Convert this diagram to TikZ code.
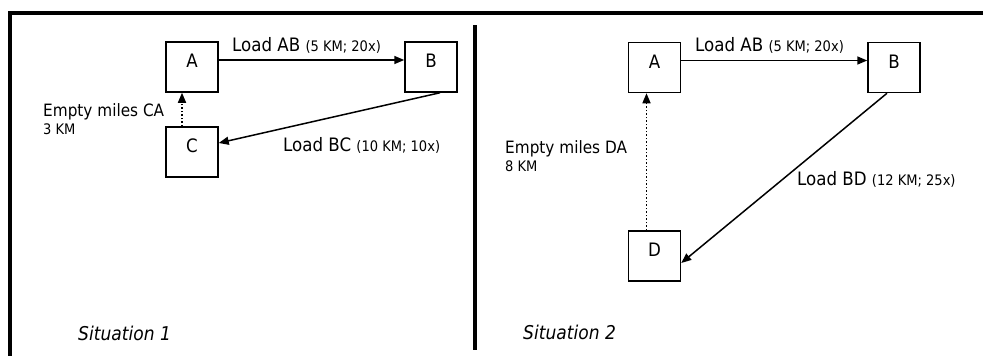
\documentclass[tikz,border=0pt]{standalone}
\usepackage{fontspec}
\setmainfont{DejaVu Sans}[FakeStretch=0.9]
\usepackage{tikz}
\usetikzlibrary{arrows.meta}
\newcommand{\detail}[1]{{\fontsize{14.5}{17}\selectfont #1}}

\begin{document}
\begin{tikzpicture}[x=1pt,y=-1pt,
  depot/.style={draw,line width=1.5pt,minimum width=52pt,minimum height=50pt,inner sep=0pt,text height=13.4pt,text depth=12pt,font=\fontsize{18.5}{21}\selectfont},
  tag/.style={anchor=base west,inner sep=0pt,font=\fontsize{18.5}{21}\selectfont},
  note/.style={anchor=base west,inner sep=0pt,font=\fontsize{17}{20}\selectfont},
  dist/.style={anchor=base west,inner sep=0pt,font=\fontsize{14.5}{17}\selectfont},
  caption/.style={anchor=base west,inner sep=0pt,font=\fontsize{19}{22}\selectfont\itshape},
  haul/.style={-{Triangle[length=10pt,width=8pt]},line width=1.5pt},
  deadhead/.style={-{Triangle[length=10pt,width=8pt]},line width=1.5pt,dotted}
]
  \useasboundingbox (0,0) rectangle (983,356);
  \draw[line width=4pt] (9.5,356) -- (9.5,12.5) -- (983,12.5);
  \draw[line width=4.5pt] (475,25) -- (475,350);

  \node[depot] (A1) at (192,67) {A};
  \node[depot] (B1) at (431,67) {B};
  \node[depot] (C1) at (192,152) {C};
  \node[tag] (ab1) at (232,51) {Load AB \detail{(5 KM; 20x)}};
  \node[tag] (bc1) at (283,151) {Load BC \detail{(10 KM; 10x)}};
  \node[note] (ca1) at (43,116) {Empty miles CA};
  \node[dist] (ca1km) at (43,134) {3 KM};
  \node[caption] (s1) at (78,340) {Situation 1};

  \draw[haul] ([yshift=7]A1.east) -- ([yshift=7]B1.west);
  \draw[haul] ([xshift=9]B1.south) -- ([yshift=9]C1.east);
  \draw[deadhead] ([xshift=-10]C1.north) -- ([xshift=-10]A1.south);

  \node[depot] (A2) at (654.5,67.5) {A};
  \node[depot] (B2) at (894,67.5) {B};
  \node[depot] (D2) at (654.5,256) {D};
  \node[tag] (ab2) at (695,51) {Load AB \detail{(5 KM; 20x)}};
  \node[tag] (bd2) at (797,185) {Load BD \detail{(12 KM; 25x)}};
  \node[note] (da2) at (505,153) {Empty miles DA};
  \node[dist] (da2km) at (505,171) {8 KM};
  \node[caption] (s2) at (523,339) {Situation 2};

  \draw[haul] ([yshift=7]A2.east) -- ([yshift=7]B2.west);
  \draw[haul] ([xshift=-7]B2.south) -- ([yshift=-7]D2.east);
  \draw[deadhead] ([xshift=-8]D2.north) -- ([xshift=-8]A2.south);
\end{tikzpicture}
\end{document}
